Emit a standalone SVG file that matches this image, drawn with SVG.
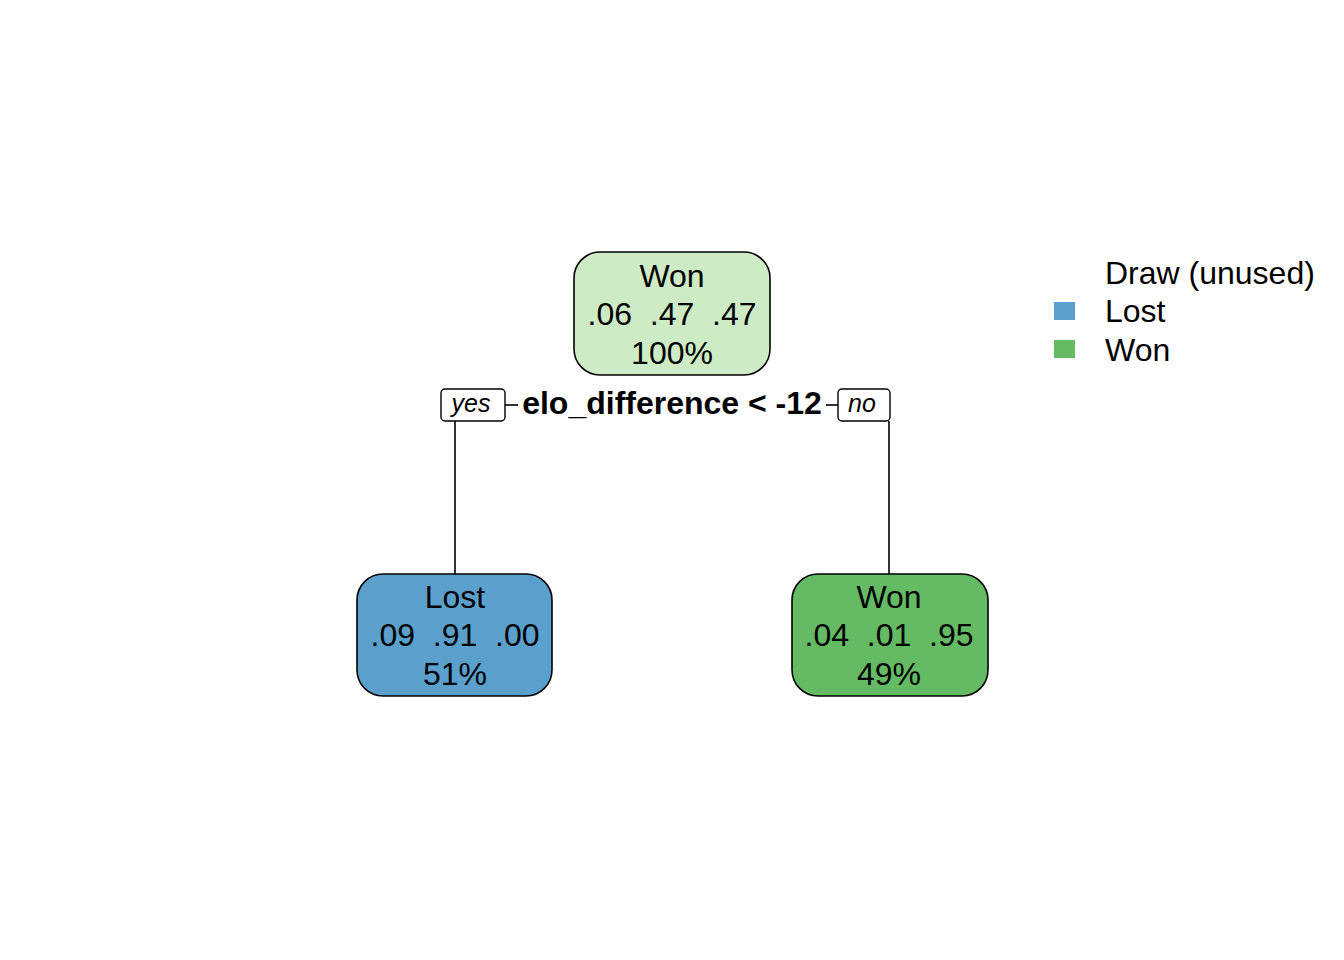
<svg xmlns="http://www.w3.org/2000/svg" width="1344" height="960" viewBox="0 0 1344 960">
<style>
.t{font-family:"Liberation Sans",Arial,sans-serif;font-size:32px;fill:#000;text-anchor:middle}
.box{stroke:#000;stroke-width:1.6}
.lab{fill:#fff;stroke:#000;stroke-width:1.4}
.it{font-family:"Liberation Sans",Arial,sans-serif;font-size:25px;font-style:italic;text-anchor:middle}
.b{font-family:"Liberation Sans",Arial,sans-serif;font-size:32px;font-weight:bold;text-anchor:middle}
.lg{font-family:"Liberation Sans",Arial,sans-serif;font-size:32px}
.c{stroke:#000;stroke-width:1.6;fill:none}
</style>
<rect width="1344" height="960" fill="#fff"/>
<g id="connectors">
<path class="c" d="M455,421 V574"/>
<path class="c" d="M889,421 V574"/>
<path class="c" d="M505,405 H518"/>
<path class="c" d="M826,405 H838"/>
</g>
<g id="root">
<rect class="box" x="574" y="252" width="196" height="123" rx="26" fill="#CDECC5"/>
<text class="t" x="672" y="287">Won</text>
<text class="t" x="672" y="325" xml:space="preserve">.06  .47  .47</text>
<text class="t" x="672" y="364">100%</text>
</g>
<g id="split">
<text class="b" x="672" y="414">elo_difference &lt; -12</text>
<rect class="lab" x="441" y="389" width="64" height="32" rx="4"/>
<text class="it" x="471" y="412">yes</text>
<rect class="lab" x="838" y="389" width="52" height="32" rx="4"/>
<text class="it" x="862" y="412">no</text>
</g>
<g id="lost">
<rect class="box" x="357" y="574" width="195" height="122" rx="26" fill="#5BA0CD"/>
<text class="t" x="455" y="608">Lost</text>
<text class="t" x="455" y="646" xml:space="preserve">.09  .91  .00</text>
<text class="t" x="455" y="685">51%</text>
</g>
<g id="won">
<rect class="box" x="792" y="574" width="196" height="122" rx="26" fill="#64BB64"/>
<text class="t" x="889" y="608">Won</text>
<text class="t" x="889" y="646" xml:space="preserve">.04  .01  .95</text>
<text class="t" x="889" y="685">49%</text>
</g>
<g id="legend">
<text class="lg" x="1105" y="284">Draw (unused)</text>
<rect x="1054" y="302" width="21" height="18" fill="#5BA0CD"/>
<text class="lg" x="1105" y="322">Lost</text>
<rect x="1054" y="340" width="21" height="18" fill="#64BB64"/>
<text class="lg" x="1105" y="361">Won</text>
</g>
</svg>
